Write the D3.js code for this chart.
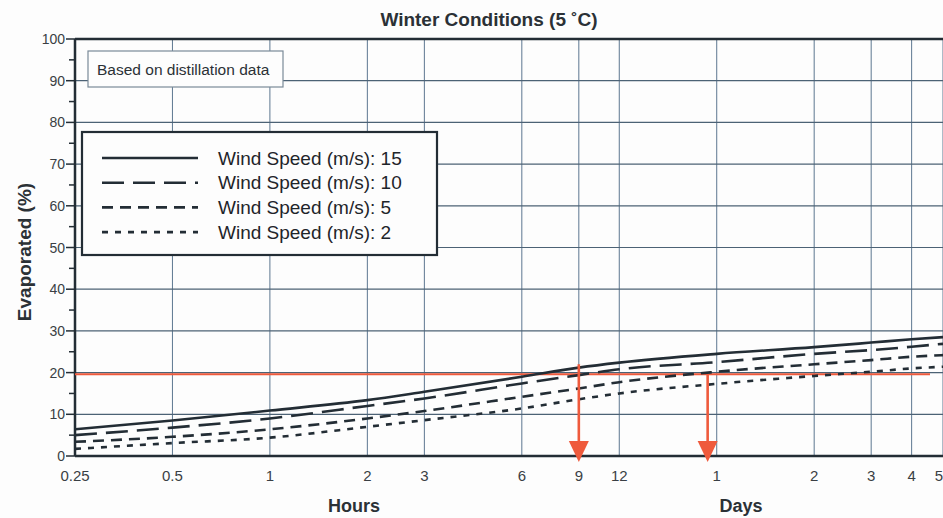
<!DOCTYPE html>
<html>
<head>
<meta charset="utf-8">
<script src="https://cdn.jsdelivr.net/npm/d3@7"></script>
<style>
  body { margin: 0; background: #fdfdfd; }
  svg { display: block; font-family: "Liberation Sans", Arial, sans-serif; }
</style>
</head>
<body>
<script>
// time in hours
let hours = [0.25, 0.5, 1, 2, 3, 6, 9, 12, 24, 48, 72, 96, 120];
let ws15 = [6.4, 8.5, 10.9, 13.4, 15.4, 19.0, 21.2, 22.4, 24.5, 26.1, 27.2, 28.0, 28.5];
let ws10 = [5.0, 6.8, 9.0, 12.0, 13.8, 17.4, 19.4, 20.8, 22.5, 24.5, 25.4, 26.2, 26.9];
let ws5 = [3.4, 4.6, 6.4, 9.0, 10.8, 14.2, 16.2, 17.7, 20.2, 22.0, 23.0, 23.8, 24.2];
let ws2 = [1.7, 3.1, 4.4, 7.0, 8.6, 11.4, 13.6, 15.0, 17.3, 19.2, 20.2, 21.0, 21.4];

let hourTicks = [0.25, 0.5, 1, 2, 3, 6, 9, 12];
let dayTicks = [1, 2, 3, 4, 5];
let yTicks = [0, 10, 20, 30, 40, 50, 60, 70, 80, 90, 100];

let redLevel = 19.6;
let arrowTimes = [9, 22.5];
let arrowTops = [22, 19.6];

let w = 943, h = 518;

var series = [
  {label: "Wind Speed (m/s): 15", values: ws15, dash: null},
  {label: "Wind Speed (m/s): 10", values: ws10, dash: "22,9"},
  {label: "Wind Speed (m/s): 5", values: ws5, dash: "11,7"},
  {label: "Wind Speed (m/s): 2", values: ws2, dash: "6,7"}
];

var x = d3.scaleLog().domain([0.25, 120]).range([75, 943]);
var y = d3.scaleLinear().domain([0, 100]).range([456, 39]);

var svg = d3.select("body").append("svg").attr("width", w).attr("height", h);

var grid = "#4c6275";
var ink = "#232d35";
var txt = "#3a3f44";

// vertical grid
var allX = hourTicks.concat(dayTicks.map(function(d){ return d * 24 }));
svg.selectAll(".vgrid").data(allX).enter().append("line")
  .attr("x1", function(d){ return x(d) }).attr("x2", function(d){ return x(d) })
  .attr("y1", y(100)).attr("y2", y(0))
  .attr("stroke", "#5d7790").attr("stroke-width", 1);

// horizontal grid
svg.selectAll(".hgrid").data(yTicks.slice(1, 10)).enter().append("line")
  .attr("x1", x(0.25)).attr("x2", w)
  .attr("y1", function(d){ return y(d) }).attr("y2", function(d){ return y(d) })
  .attr("stroke", grid).attr("stroke-width", 1.2);

// frame
svg.append("line").attr("x1", x(0.25)).attr("x2", w).attr("y1", y(100)).attr("y2", y(100))
  .attr("stroke", ink).attr("stroke-width", 2.5);
svg.append("line").attr("x1", x(0.25)).attr("x2", w).attr("y1", y(0)).attr("y2", y(0))
  .attr("stroke", ink).attr("stroke-width", 2.5);
svg.append("line").attr("x1", x(0.25)).attr("x2", x(0.25)).attr("y1", y(100)).attr("y2", y(0))
  .attr("stroke", ink).attr("stroke-width", 2.5);

// y ticks + labels
svg.selectAll(".ytick").data(d3.range(0, 101, 5)).enter().append("line")
  .attr("x1", function(d){ return d % 10 == 0 ? 66 : 69 }).attr("x2", 75)
  .attr("y1", function(d){ return y(d) }).attr("y2", function(d){ return y(d) })
  .attr("stroke", ink).attr("stroke-width", 1.5);
svg.selectAll(".ylab").data(yTicks).enter().append("text")
  .attr("x", 65).attr("y", function(d){ return y(d) + 5 })
  .attr("text-anchor", "end").attr("font-size", 14).attr("fill", txt)
  .text(function(d){ return d });

// x labels
svg.selectAll(".hlab").data(hourTicks).enter().append("text")
  .attr("x", function(d){ return x(d) }).attr("y", 481)
  .attr("text-anchor", "middle").attr("font-size", 15).attr("fill", txt)
  .text(function(d){ return d });
svg.selectAll(".dlab").data(dayTicks).enter().append("text")
  .attr("x", function(d, i){ return i == dayTicks.length - 1 ? x(d * 24) - 4 : x(d * 24) }).attr("y", 481)
  .attr("text-anchor", "middle").attr("font-size", 15).attr("fill", txt)
  .text(function(d){ return d });

// red annotation
var red = "#ef5a3c";
svg.append("line").attr("x1", x(0.25)).attr("x2", 930)
  .attr("y1", y(redLevel)).attr("y2", y(redLevel))
  .attr("stroke", red).attr("stroke-width", 2.2);

// curves
var line = d3.line()
  .x(function(d){ return x(d[0]) })
  .y(function(d){ return y(d[1]) })
  .curve(d3.curveMonotoneX);

svg.selectAll(".curve").data(series).enter().append("path")
  .attr("d", function(s){ return line(hours.map(function(t, i){ return [t, s.values[i]] })) })
  .attr("fill", "none").attr("stroke", ink).attr("stroke-width", 2.6)
  .attr("stroke-dasharray", function(s){ return s.dash });

// arrows
arrowTimes.forEach(function(t, i){
  var ax = x(t);
  svg.append("line").attr("x1", ax).attr("x2", ax)
    .attr("y1", y(arrowTops[i])).attr("y2", 445)
    .attr("stroke", red).attr("stroke-width", 2.6);
  svg.append("path")
    .attr("d", "M" + (ax - 10) + ",441 L" + (ax + 10) + ",441 L" + ax + ",462 Z")
    .attr("fill", red);
});

// title + axis titles
svg.append("text").attr("x", 489).attr("y", 26).attr("text-anchor", "middle")
  .attr("font-size", 19).attr("font-weight", "bold").attr("fill", "#2b3136")
  .text("Winter Conditions (5 ˚C)");
svg.append("text").attr("transform", "translate(31,252) rotate(-90)")
  .attr("text-anchor", "middle").attr("font-size", 19).attr("font-weight", "bold").attr("fill", "#2b3136")
  .text("Evaporated (%)");
svg.append("text").attr("x", 354).attr("y", 512).attr("text-anchor", "middle")
  .attr("font-size", 18).attr("font-weight", "bold").attr("fill", "#2b3136").text("Hours");
svg.append("text").attr("x", 741).attr("y", 512).attr("text-anchor", "middle")
  .attr("font-size", 18).attr("font-weight", "bold").attr("fill", "#2b3136").text("Days");

// note box
svg.append("rect").attr("x", 88).attr("y", 51).attr("width", 195).attr("height", 36)
  .attr("fill", "#fdfdfd").attr("stroke", "#7a8a98").attr("stroke-width", 1.2);
svg.append("text").attr("x", 97).attr("y", 75).attr("font-size", 15.5).attr("fill", "#2b3136")
  .text("Based on distillation data");

// legend
svg.append("rect").attr("x", 82).attr("y", 132).attr("width", 355).attr("height", 123)
  .attr("fill", "#fdfdfd").attr("stroke", ink).attr("stroke-width", 2.2);
var leg = svg.selectAll(".leg").data(series).enter().append("g")
  .attr("transform", function(d, i){ return "translate(0," + (158 + i * 24.7) + ")" });
leg.append("line").attr("x1", 102).attr("x2", 198).attr("y1", 0).attr("y2", 0)
  .attr("stroke", ink).attr("stroke-width", 2.6)
  .attr("stroke-dasharray", function(s){ return s.dash });
leg.append("text").attr("x", 218).attr("y", 6.5).attr("font-size", 19).attr("fill", "#1f252a")
  .text(function(s){ return s.label });
</script>
</body>
</html>
